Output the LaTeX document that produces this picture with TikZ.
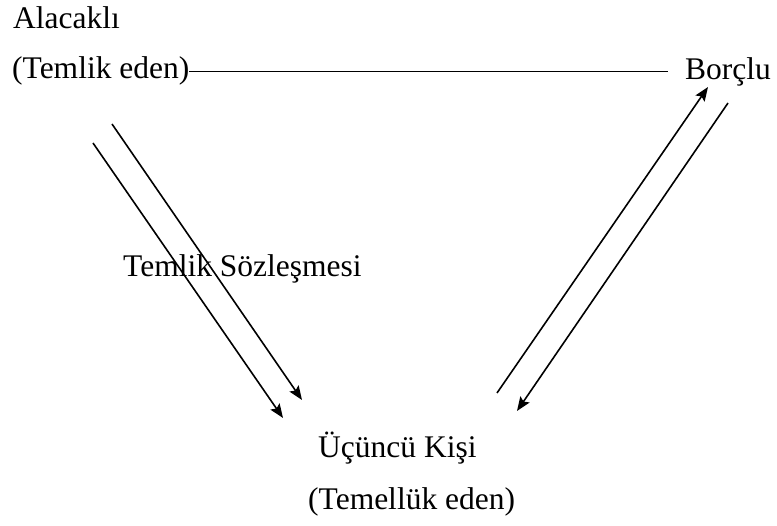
\documentclass[tikz,border=0pt]{standalone}
\usepackage{fontspec}
\setmainfont{Liberation Serif}
\newfontfamily\tnr{Liberation Serif}
\usetikzlibrary{arrows.meta}
\begin{document}
\begin{tikzpicture}[x=1pt,y=-1pt,
  lbl/.style={inner sep=0pt,anchor=base west,font=\tnr\fontsize{31.5}{38}\selectfont},
  conn/.style={line width=1.8pt},
  arr/.style={line width=1.6pt,-{Stealth[length=14pt,width=11pt,inset=2.5pt]}}]
\useasboundingbox (0,0) rectangle (777,526);
\node[lbl] (alacakli) at (13,29) {Alacaklı};
\node[lbl] (temlik) at (12,79) {(Temlik eden)};
\node[lbl] (borclu) at (685,80) {Borçlu};
\node[lbl] (sozlesme) at (123,277) {Temlik Sözleşmesi};
\node[lbl] (ucuncu) at (318,458) {Üçüncü Kişi};
\node[lbl] (temelluk) at (308,510) {(Temellük eden)};
\draw[conn,shorten >=17pt] (temlik.east) -- (temlik.east -| borclu.west);
\coordinate (a1) at (112,124);
\coordinate (a2) at (302,400);
\coordinate (b1) at (93,143);
\coordinate (b2) at (283,418);
\coordinate (c1) at (497,393);
\coordinate (c2) at (708,87);
\coordinate (d1) at (728,103);
\coordinate (d2) at (517,411);
\draw[arr] (a1) -- (a2);
\draw[arr] (b1) -- (b2);
\draw[arr] (c1) -- (c2);
\draw[arr] (d1) -- (d2);
\end{tikzpicture}
\end{document}
